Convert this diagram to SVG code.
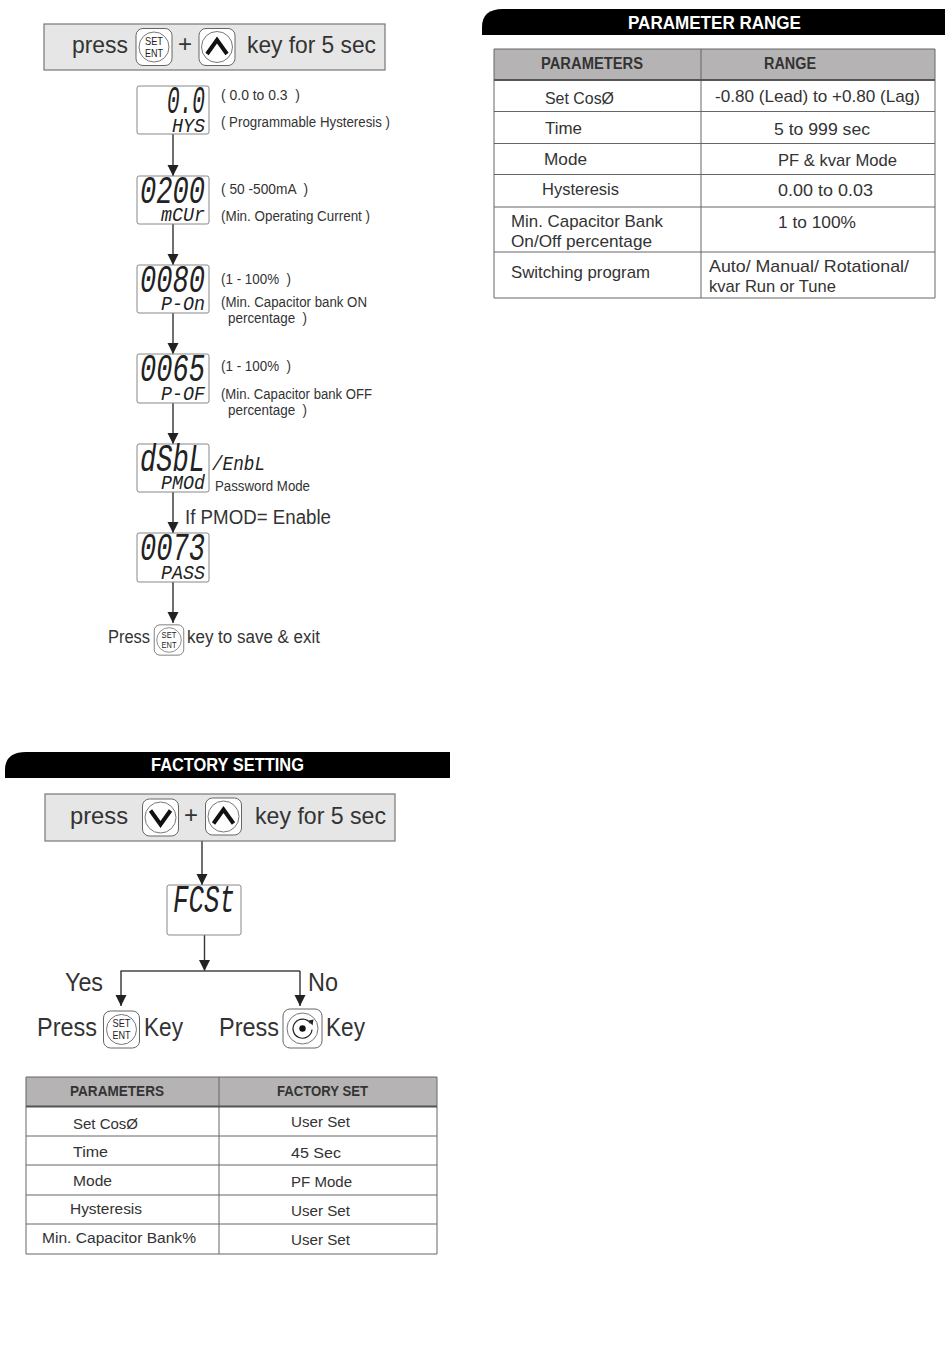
<svg xmlns="http://www.w3.org/2000/svg" width="950" height="1353" viewBox="0 0 950 1353">
<style>
text{font-family:"Liberation Sans","Arial",sans-serif;fill:#333;white-space:pre}
.k{font-size:24px}.m{font-size:14px}.t{font-size:17px}.h{font-size:16px;font-weight:bold}.b{font-size:19px;font-weight:bold;fill:#fff}
.lg{font-size:25px}.f{font-size:15.5px}.fh{font-size:14.5px;font-weight:bold}
.d{font-family:"Liberation Mono","DejaVu Sans Mono",monospace;font-style:italic;fill:#222;font-size:38px}
.s{font-family:"Liberation Mono","DejaVu Sans Mono",monospace;font-style:italic;fill:#222;font-size:20px}
.keyk{font-size:10.5px;fill:#222}
.lcd{fill:#fff;stroke:#888;stroke-width:1}
.bar{fill:#e6e6e6;stroke:#777;stroke-width:1.2}
.cap{fill:#fff;stroke:#666;stroke-width:1}
.ring{fill:#fff;stroke:#777;stroke-width:1}
.chev{fill:none;stroke:#111;stroke-width:4;stroke-linejoin:miter}
.ln{fill:none;stroke:#444;stroke-width:1.3}
.conn{fill:none;stroke:#333;stroke-width:1.4;marker-end:url(#arr)}
.hd{fill:#b5b3b4}
.g{stroke:#666;stroke-width:1;fill:none}
.gd{stroke:#555;stroke-width:1.8;fill:none}
</style>
<defs>
<marker id="arr" markerUnits="userSpaceOnUse" markerWidth="12" markerHeight="13" refX="11" refY="5.5" orient="auto"><path d="M0 0L11 5.5L0 11Z" fill="#222"/></marker>
<g id="setent"><rect class="cap" x="-18" y="-18.5" width="36" height="37" rx="7"/><circle class="ring" cx="0" cy="0" r="15"/><text class="keyk" x="-9" y="-2.500" textLength="18" lengthAdjust="spacingAndGlyphs">SET</text><text class="keyk" x="-9" y="9.500" textLength="18" lengthAdjust="spacingAndGlyphs">ENT</text></g>
<g id="up"><rect class="cap" x="-18" y="-18.5" width="36" height="37" rx="7"/><circle class="ring" cx="0" cy="0" r="15.5"/><path class="chev" d="M-10 7L0 -7L10 7"/></g>
<g id="down"><rect class="cap" x="-18" y="-18.5" width="36" height="37" rx="7"/><circle class="ring" cx="0" cy="0" r="15.5"/><path class="chev" d="M-10 -7L0 7L10 -7"/></g>
<g id="rot"><rect class="cap" x="-19.5" y="-19.5" width="39" height="39" rx="7"/><circle class="ring" cx="0" cy="0" r="15.5"/><circle cx="0" cy="0" r="3.2" fill="#111"/><path d="M8 -5A9.500 9.500 0 1 0 9.500 1" fill="none" stroke="#222" stroke-width="1.2"/><path d="M6 -8L11 -9L10 -3Z" fill="#222"/></g>
</defs>

<g id="connectors">
<path class="conn" d="M173 134V176"/>
<path class="conn" d="M173 224V265"/>
<path class="conn" d="M173 313V354"/>
<path class="conn" d="M173 403V444"/>
<path class="conn" d="M173 492V533"/>
<path class="conn" d="M173 582V623"/>
<path class="conn" d="M202 841V885"/>
<path class="conn" d="M204.500 935V971"/>
<path class="ln" d="M120.500 971H300"/>
<path class="conn" d="M121 971V1006"/>
<path class="conn" d="M300 971V1006"/>
</g>

<g id="key-hint-1">
<rect class="bar" x="44" y="24" width="341" height="46"/>
<text class="k" x="72" y="53" textLength="56" lengthAdjust="spacingAndGlyphs">press</text>
<use href="#setent" x="154" y="47"/>
<text class="k" x="178" y="52">+</text>
<use href="#up" x="217" y="47"/>
<text class="k" x="247" y="53" textLength="129" lengthAdjust="spacingAndGlyphs">key for 5 sec</text>
</g>

<g id="hys">
<rect class="lcd" x="137" y="86" width="72" height="48" rx="2"/>
<text class="d" x="167" y="113" textLength="38" lengthAdjust="spacingAndGlyphs">0.0</text><text class="s" x="172" y="132" textLength="33" lengthAdjust="spacingAndGlyphs">HYS</text>
<text class="m" x="221" y="100" textLength="79" lengthAdjust="spacingAndGlyphs">( 0.0 to 0.3  )</text>
<text class="m" x="221" y="127" textLength="169" lengthAdjust="spacingAndGlyphs">( Programmable Hysteresis )</text>
</g>
<g id="mcur">
<rect class="lcd" x="137" y="176" width="72" height="48" rx="2"/>
<text class="d" x="140" y="203" textLength="65" lengthAdjust="spacingAndGlyphs">0200</text><text class="s" x="161" y="221" textLength="44" lengthAdjust="spacingAndGlyphs">mCUr</text>
<text class="m" x="221" y="194" textLength="87" lengthAdjust="spacingAndGlyphs">( 50 -500mA  )</text>
<text class="m" x="221" y="221" textLength="149" lengthAdjust="spacingAndGlyphs">(Min. Operating Current )</text>
</g>
<g id="pon">
<rect class="lcd" x="137" y="265" width="72" height="48" rx="2"/>
<text class="d" x="140" y="292" textLength="65" lengthAdjust="spacingAndGlyphs">0080</text><text class="s" x="161" y="310" textLength="44" lengthAdjust="spacingAndGlyphs">P-On</text>
<text class="m" x="221" y="284" textLength="70" lengthAdjust="spacingAndGlyphs">(1 - 100%  )</text>
<text class="m" x="221" y="307" textLength="146" lengthAdjust="spacingAndGlyphs">(Min. Capacitor bank ON</text>
<text class="m" x="228" y="323" textLength="79" lengthAdjust="spacingAndGlyphs">percentage  )</text>
</g>
<g id="pof">
<rect class="lcd" x="137" y="354" width="72" height="49" rx="2"/>
<text class="d" x="140" y="381" textLength="65" lengthAdjust="spacingAndGlyphs">0065</text><text class="s" x="161" y="400" textLength="44" lengthAdjust="spacingAndGlyphs">P-OF</text>
<text class="m" x="221" y="371" textLength="70" lengthAdjust="spacingAndGlyphs">(1 - 100%  )</text>
<text class="m" x="221" y="399" textLength="151" lengthAdjust="spacingAndGlyphs">(Min. Capacitor bank OFF</text>
<text class="m" x="228" y="415" textLength="79" lengthAdjust="spacingAndGlyphs">percentage  )</text>
</g>
<g id="pmod">
<rect class="lcd" x="137" y="444" width="72" height="48" rx="2"/>
<text class="d" x="140" y="471" textLength="65" lengthAdjust="spacingAndGlyphs">dSbL</text><text class="s" x="161" y="489" textLength="44" lengthAdjust="spacingAndGlyphs">PMOd</text>
<text class="s" x="212" y="470" textLength="53" lengthAdjust="spacingAndGlyphs">/EnbL</text>
<text class="m" x="215" y="491" textLength="95" lengthAdjust="spacingAndGlyphs">Password Mode</text>
<text x="185" y="524" style="font-size:20px" textLength="146" lengthAdjust="spacingAndGlyphs">If PMOD= Enable</text>
</g>
<g id="pass">
<rect class="lcd" x="137" y="533" width="72" height="49" rx="2"/>
<text class="d" x="140" y="560" textLength="65" lengthAdjust="spacingAndGlyphs">0073</text><text class="s" x="161" y="579" textLength="44" lengthAdjust="spacingAndGlyphs">PASS</text>
</g>
<g id="save-exit">
<text x="108" y="643" style="font-size:17.500px" textLength="42" lengthAdjust="spacingAndGlyphs">Press</text>
<use href="#setent" transform="translate(169 640) scale(.82)"/>
<text x="187" y="643" style="font-size:17.500px" textLength="133" lengthAdjust="spacingAndGlyphs">key to save &amp; exit</text>
</g>

<g id="factory-title">
<path d="M5 778V770Q5 752 26 752H450V778Z" fill="#000"/>
<text class="b" x="151" y="771" textLength="153" lengthAdjust="spacingAndGlyphs">FACTORY SETTING</text>
</g>
<g id="key-hint-2">
<rect class="bar" x="45" y="794" width="350" height="47"/>
<text class="k" x="70" y="824" textLength="58" lengthAdjust="spacingAndGlyphs">press</text>
<use href="#down" x="160.500" y="817.500"/>
<text class="k" x="184" y="823">+</text>
<use href="#up" x="223.500" y="816.500"/>
<text class="k" x="255" y="824" textLength="131" lengthAdjust="spacingAndGlyphs">key for 5 sec</text>
</g>
<g id="fcst">
<rect class="lcd" x="167" y="885" width="74" height="50" rx="2"/>
<text class="d" x="173" y="912" textLength="62" lengthAdjust="spacingAndGlyphs">FCSt</text>
</g>
<g id="yes-branch">
<text class="lg" x="65" y="991" textLength="38" lengthAdjust="spacingAndGlyphs">Yes</text>
<text class="lg" x="37" y="1036" textLength="60" lengthAdjust="spacingAndGlyphs">Press</text>
<use href="#setent" x="121.500" y="1029.500"/>
<text class="lg" x="144" y="1036" textLength="39" lengthAdjust="spacingAndGlyphs">Key</text>
</g>
<g id="no-branch">
<text class="lg" x="308" y="991" textLength="30" lengthAdjust="spacingAndGlyphs">No</text>
<text class="lg" x="219" y="1036" textLength="60" lengthAdjust="spacingAndGlyphs">Press</text>
<use href="#rot" x="302.500" y="1028.500"/>
<text class="lg" x="326" y="1036" textLength="39" lengthAdjust="spacingAndGlyphs">Key</text>
</g>

<g id="factory-table">
<rect class="hd" x="26" y="1077" width="411" height="29"/>
<path class="g" d="M26 1077H437V1254H26ZM219 1077V1254M26 1136H437M26 1165H437M26 1195H437M26 1224H437"/>
<path class="gd" d="M26 1106.500H437"/>
<text class="fh" x="70" y="1096" textLength="94" lengthAdjust="spacingAndGlyphs">PARAMETERS</text>
<text class="fh" x="277" y="1096" textLength="91" lengthAdjust="spacingAndGlyphs">FACTORY SET</text>
<text class="f" x="73" y="1129" textLength="65" lengthAdjust="spacingAndGlyphs">Set CosØ</text><text class="f" x="291" y="1127" textLength="59" lengthAdjust="spacingAndGlyphs">User Set</text>
<text class="f" x="73" y="1157" textLength="35" lengthAdjust="spacingAndGlyphs">Time</text><text class="f" x="291" y="1158" textLength="50" lengthAdjust="spacingAndGlyphs">45 Sec</text>
<text class="f" x="73" y="1186" textLength="39" lengthAdjust="spacingAndGlyphs">Mode</text><text class="f" x="291" y="1187" textLength="61" lengthAdjust="spacingAndGlyphs">PF Mode</text>
<text class="f" x="70" y="1214" textLength="72" lengthAdjust="spacingAndGlyphs">Hysteresis</text><text class="f" x="291" y="1216" textLength="59" lengthAdjust="spacingAndGlyphs">User Set</text>
<text class="f" x="42" y="1243" textLength="154" lengthAdjust="spacingAndGlyphs">Min. Capacitor Bank%</text><text class="f" x="291" y="1245" textLength="59" lengthAdjust="spacingAndGlyphs">User Set</text>
</g>

<g id="range-title">
<path d="M482 35V27Q482 9 503 9H945V35Z" fill="#000"/>
<text class="b" x="628" y="29" textLength="173" lengthAdjust="spacingAndGlyphs">PARAMETER RANGE</text>
</g>
<g id="range-table">
<rect class="hd" x="494" y="49" width="441" height="31"/>
<path class="g" d="M494 49H935V298H494ZM701 49V298M494 111.500H935M494 143.500H935M494 174.500H935M494 207H935M494 252H935"/>
<path class="gd" d="M494 80H935"/>
<text class="h" x="541" y="69" textLength="102" lengthAdjust="spacingAndGlyphs">PARAMETERS</text>
<text class="h" x="764" y="69" textLength="52" lengthAdjust="spacingAndGlyphs">RANGE</text>
<text class="t" x="545" y="104" textLength="69" lengthAdjust="spacingAndGlyphs">Set CosØ</text><text class="t" x="715" y="102" textLength="205" lengthAdjust="spacingAndGlyphs">-0.80 (Lead) to +0.80 (Lag)</text>
<text class="t" x="545" y="134" textLength="37" lengthAdjust="spacingAndGlyphs">Time</text><text class="t" x="774" y="135" textLength="96" lengthAdjust="spacingAndGlyphs">5 to 999 sec</text>
<text class="t" x="544" y="165" textLength="43" lengthAdjust="spacingAndGlyphs">Mode</text><text class="t" x="778" y="166" textLength="119" lengthAdjust="spacingAndGlyphs">PF &amp; kvar Mode</text>
<text class="t" x="542" y="195" textLength="77" lengthAdjust="spacingAndGlyphs">Hysteresis</text><text class="t" x="778" y="196" textLength="95" lengthAdjust="spacingAndGlyphs">0.00 to 0.03</text>
<text class="t" x="511" y="227" textLength="152" lengthAdjust="spacingAndGlyphs">Min. Capacitor Bank</text><text class="t" x="778" y="228" textLength="78" lengthAdjust="spacingAndGlyphs">1 to 100%</text>
<text class="t" x="511" y="247" textLength="141" lengthAdjust="spacingAndGlyphs">On/Off percentage</text>
<text class="t" x="511" y="278" textLength="139" lengthAdjust="spacingAndGlyphs">Switching program</text><text class="t" x="709" y="272" textLength="200" lengthAdjust="spacingAndGlyphs">Auto/ Manual/ Rotational/</text>
<text class="t" x="709" y="292" textLength="127" lengthAdjust="spacingAndGlyphs">kvar Run or Tune</text>
</g>
</svg>
